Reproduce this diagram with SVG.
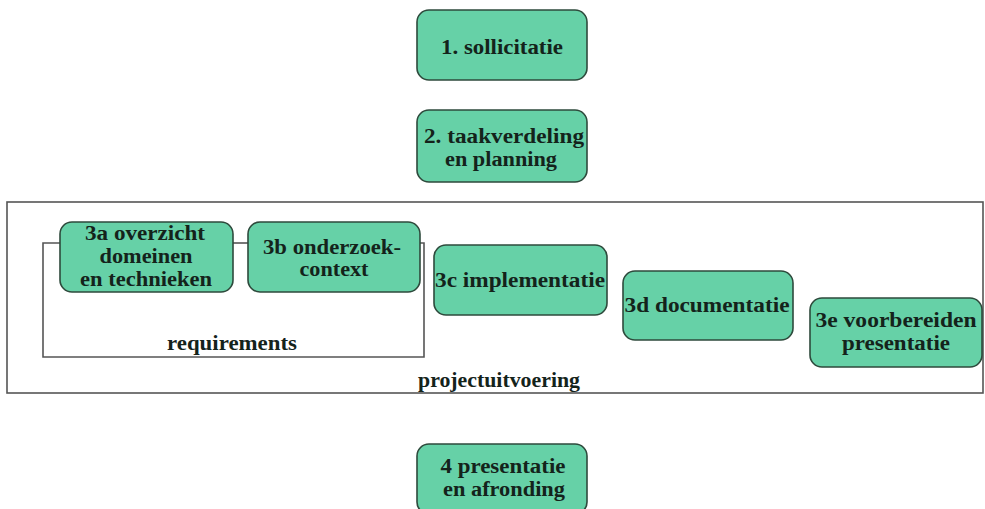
<svg xmlns="http://www.w3.org/2000/svg" width="985" height="509" viewBox="0 0 985 509">
<style>
.box{fill:#66d1a7;stroke:#2e4a3c;stroke-width:1.6}
.t{font-family:"Liberation Serif",serif;font-weight:bold;font-size:20px;fill:#14231b;text-anchor:middle}
.ln{fill:none;stroke:#555;stroke-width:1.6}
</style>
<rect width="985" height="509" fill="#fff"/>
<g id="projectuitvoering">
<rect class="ln" x="7" y="202" width="976" height="191"/>
<text class="t" x="499" y="387" textLength="162" lengthAdjust="spacingAndGlyphs">projectuitvoering</text>
</g>
<g id="connectors">
<path class="ln" d="M60 243 H43 V357 H424 V243 H420"/>
<path class="ln" d="M233 243 H248"/>
</g>
<g id="requirements"><text class="t" x="232" y="350" textLength="130" lengthAdjust="spacingAndGlyphs">requirements</text></g>
<g id="n1"><rect class="box" x="417" y="10" width="170" height="70" rx="12"/><text class="t" x="502" y="54" textLength="122" lengthAdjust="spacingAndGlyphs">1. sollicitatie</text></g>
<g id="n2"><rect class="box" x="417" y="110" width="170" height="72" rx="12"/><text class="t" x="504" y="143" textLength="160" lengthAdjust="spacingAndGlyphs">2. taakverdeling</text><text class="t" x="501" y="166" textLength="112" lengthAdjust="spacingAndGlyphs">en planning</text></g>
<g id="n3a"><rect class="box" x="60" y="222" width="173" height="70" rx="12"/><text class="t" x="145" y="240" textLength="120" lengthAdjust="spacingAndGlyphs">3a overzicht</text><text class="t" x="146" y="263" textLength="93" lengthAdjust="spacingAndGlyphs">domeinen</text><text class="t" x="146" y="286" textLength="132" lengthAdjust="spacingAndGlyphs">en technieken</text></g>
<g id="n3b"><rect class="box" x="248" y="222" width="172" height="70" rx="12"/><text class="t" x="332" y="254" textLength="138" lengthAdjust="spacingAndGlyphs">3b onderzoek-</text><text class="t" x="334" y="276" textLength="69" lengthAdjust="spacingAndGlyphs">context</text></g>
<g id="n3c"><rect class="box" x="434" y="245" width="173" height="70" rx="12"/><text class="t" x="520" y="287" textLength="170" lengthAdjust="spacingAndGlyphs">3c implementatie</text></g>
<g id="n3d"><rect class="box" x="623" y="271" width="170" height="69" rx="12"/><text class="t" x="707" y="312" textLength="165" lengthAdjust="spacingAndGlyphs">3d documentatie</text></g>
<g id="n3e"><rect class="box" x="810" y="298" width="172" height="69" rx="12"/><text class="t" x="896" y="327" textLength="161" lengthAdjust="spacingAndGlyphs">3e voorbereiden</text><text class="t" x="896" y="349.5" textLength="108" lengthAdjust="spacingAndGlyphs">presentatie</text></g>
<g id="n4"><rect class="box" x="417" y="444" width="170" height="70" rx="12"/><text class="t" x="503" y="473" textLength="125" lengthAdjust="spacingAndGlyphs">4 presentatie</text><text class="t" x="504" y="495.5" textLength="122" lengthAdjust="spacingAndGlyphs">en afronding</text></g>
</svg>
